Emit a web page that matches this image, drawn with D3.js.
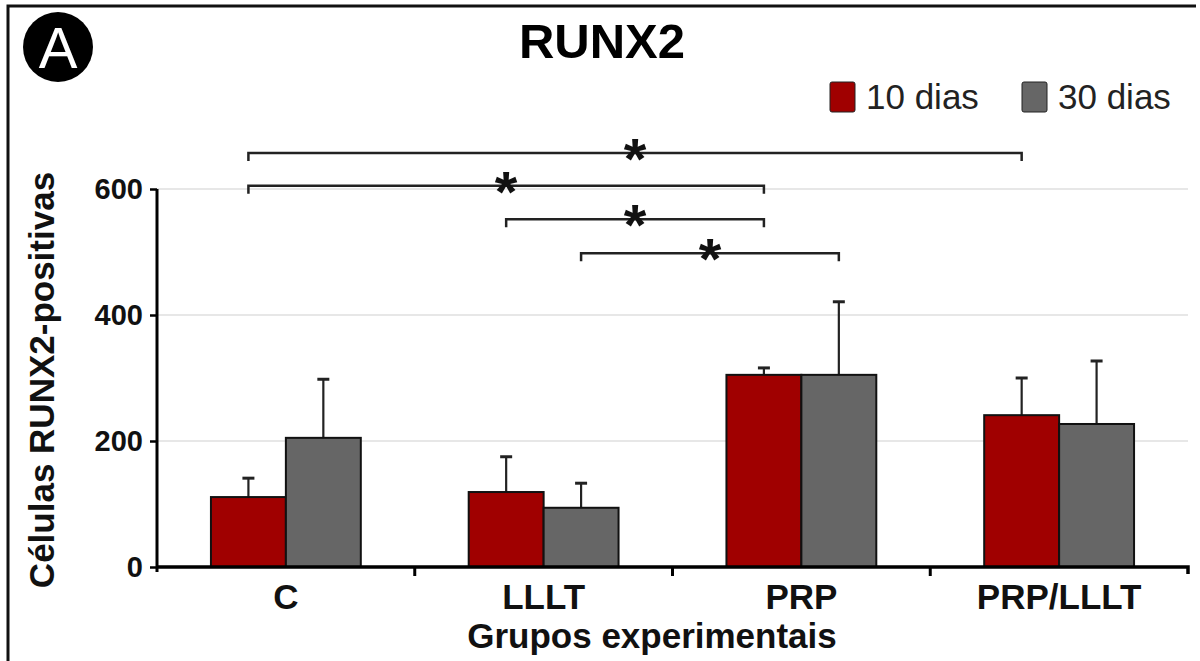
<!DOCTYPE html>
<html>
<head>
<meta charset="utf-8">
<script src="https://cdn.jsdelivr.net/npm/d3@7"></script>
<style>
  body { margin: 0; background: #fff; }
  svg { display: block; font-family: Arial, "Liberation Sans", sans-serif; }
</style>
</head>
<body>
<svg id="chart" width="1200" height="661"></svg>
<script>
let groups = ['C', 'LLLT', 'PRP', 'PRP/LLLT']
let seriesNames = ['10 dias', '30 dias']
let means10 = [111, 119, 305, 241]
let errors10 = [141, 175, 316, 300]
let means30 = [205, 94, 305, 227]
let errors30 = [298, 133, 421, 327]
let yTicks = [0, 200, 400, 600]
// significance brackets: [group, series] from -> to, level in y units
let bracketFrom = [[0, 0], [0, 0], [1, 0], [1, 1]]
let bracketTo = [[3, 0], [2, 0], [2, 0], [2, 1]]
let bracketLevel = [657, 605, 552, 498]

let colors = ['#a00000', '#666666']

let svg = d3.select('#chart')

let plotLeft = 157, plotRight = 1188, plotTop = 189, plotBottom = 567

let x = d3.scaleBand().domain(groups).range([plotLeft, plotRight]).paddingInner(0).paddingOuter(0)
let xSub = d3.scaleBand().domain(seriesNames).range([0, x.bandwidth()]).paddingInner(0).paddingOuter(0.72)
let y = d3.scaleLinear().domain([0, 600]).range([plotBottom, plotTop])

// frame
svg.append('path')
   .attr('d', 'M8,661 L8,6 L1196,6')
   .attr('fill', 'none')
   .attr('stroke', '#111')
   .attr('stroke-width', 3)

// panel letter
svg.append('circle').attr('cx', 58).attr('cy', 47).attr('r', 35).attr('fill', '#000')
svg.append('text').attr('x', 58).attr('y', 68).attr('text-anchor', 'middle')
   .attr('fill', '#fff').attr('font-size', 58).text('A')

// title
svg.append('text').attr('x', 602).attr('y', 58).attr('text-anchor', 'middle')
   .attr('font-size', 49).attr('font-weight', 'bold').text('RUNX2')

// legend
let legendX = [830, 1022]
seriesNames.forEach((name, i) => {
  svg.append('rect').attr('x', legendX[i]).attr('y', 82).attr('width', 25).attr('height', 30)
     .attr('rx', 2).attr('fill', colors[i]).attr('stroke', '#222').attr('stroke-width', 1)
  svg.append('text').attr('x', legendX[i] + 36).attr('y', 109).attr('font-size', 35)
     .attr('fill', '#222').text(name)
})

// gridlines
svg.append('g').selectAll('line')
   .data(yTicks.filter(d => d > 0))
   .enter().append('line')
   .attr('x1', plotLeft).attr('x2', plotRight)
   .attr('y1', d => y(d)).attr('y2', d => y(d))
   .attr('stroke', '#cfcfcf').attr('stroke-width', 1.2)

// bars
let rows = []
groups.forEach((g, i) => {
  rows.push({ group: g, s: 0, mean: means10[i], err: errors10[i] })
  rows.push({ group: g, s: 1, mean: means30[i], err: errors30[i] })
})

let barX = (g, s) => x(g) + xSub(seriesNames[s])
let barC = (g, s) => barX(g, s) + xSub.bandwidth() / 2

// error bars
let eb = svg.append('g').selectAll('g').data(rows).enter().append('g')
eb.append('line')
  .attr('x1', d => barC(d.group, d.s)).attr('x2', d => barC(d.group, d.s))
  .attr('y1', d => y(d.mean)).attr('y2', d => y(d.err))
  .attr('stroke', '#222').attr('stroke-width', 2.2)
eb.append('line')
  .attr('x1', d => barC(d.group, d.s) - 6).attr('x2', d => barC(d.group, d.s) + 6)
  .attr('y1', d => y(d.err)).attr('y2', d => y(d.err))
  .attr('stroke', '#222').attr('stroke-width', 3)

svg.append('g').selectAll('rect').data(rows).enter().append('rect')
   .attr('x', d => barX(d.group, d.s))
   .attr('y', d => y(d.mean))
   .attr('width', xSub.bandwidth())
   .attr('height', d => y(0) - y(d.mean))
   .attr('fill', d => colors[d.s])
   .attr('stroke', '#111').attr('stroke-width', 2)

// y axis
let yAxis = svg.append('g').attr('transform', 'translate(' + plotLeft + ',0)')
   .call(d3.axisLeft(y).tickValues(yTicks).tickSize(7).tickSizeOuter(0).tickPadding(7))
yAxis.select('.domain').attr('stroke', '#000').attr('stroke-width', 3)
     .attr('d', 'M0,' + plotTop + 'V' + (plotBottom + 5))
yAxis.selectAll('.tick line').attr('stroke', '#000').attr('stroke-width', 2.5)
yAxis.selectAll('.tick text').attr('font-size', 29).attr('font-weight', 'bold').attr('fill', '#111')
     .attr('font-family', 'Arial, "Liberation Sans", sans-serif')

// x axis
let xAxis = svg.append('g').attr('transform', 'translate(0,' + plotBottom + ')')
   .call(d3.axisBottom(x).tickSize(0).tickPadding(17))
xAxis.select('.domain').attr('stroke', '#000').attr('stroke-width', 3.5)
     .attr('d', 'M' + plotLeft + ',0H' + plotRight + 'v7')
xAxis.selectAll('.tick text').attr('font-size', 35).attr('font-weight', 'bold').attr('fill', '#111')
     .attr('font-family', 'Arial, "Liberation Sans", sans-serif')
// separator ticks between groups
svg.append('g').selectAll('line')
   .data(groups.slice(1))
   .enter().append('line')
   .attr('x1', d => x(d)).attr('x2', d => x(d))
   .attr('y1', plotBottom).attr('y2', plotBottom + 9)
   .attr('stroke', '#000').attr('stroke-width', 3)

// axis titles
svg.append('text').attr('transform', 'translate(54,380) rotate(-90)')
   .attr('text-anchor', 'middle').attr('font-size', 35).attr('font-weight', 'bold')
   .attr('fill', '#111').text('Células RUNX2-positivas')
svg.append('text').attr('x', 652).attr('y', 648).attr('text-anchor', 'middle')
   .attr('font-size', 35).attr('font-weight', 'bold').attr('fill', '#111')
   .text('Grupos experimentais')

// significance brackets
bracketFrom.forEach((f, i) => {
  let x1 = barC(groups[f[0]], f[1])
  let x2 = barC(groups[bracketTo[i][0]], bracketTo[i][1])
  let yy = y(bracketLevel[i])
  svg.append('path')
     .attr('d', 'M' + x1 + ',' + (yy + 8) + 'V' + yy + 'H' + x2 + 'V' + (yy + 8))
     .attr('fill', 'none').attr('stroke', '#222').attr('stroke-width', 2.5)
  svg.append('text').attr('x', (x1 + x2) / 2).attr('y', yy + 26)
     .attr('text-anchor', 'middle').attr('font-size', 58).attr('font-weight', 'bold')
     .attr('fill', '#111').text('*')
})
</script>
</body>
</html>
